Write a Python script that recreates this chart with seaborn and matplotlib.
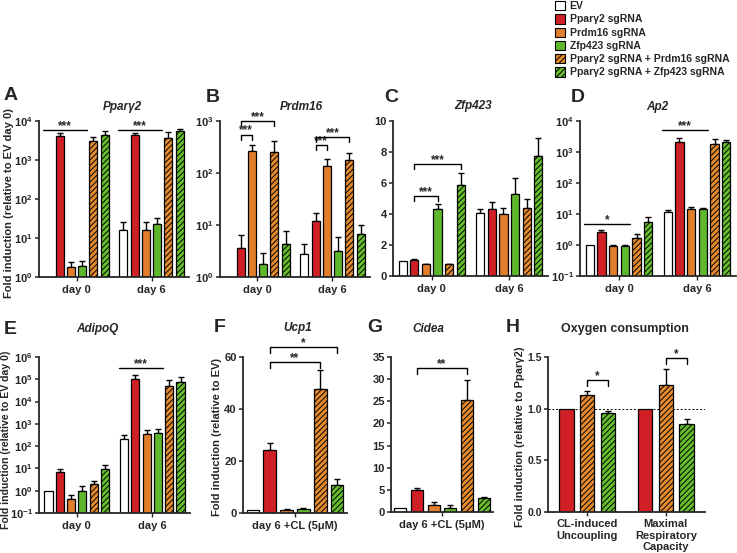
import matplotlib
matplotlib.use("Agg")
import numpy as np
import pandas as pd
import matplotlib.pyplot as plt
import matplotlib.ticker as mticker
from matplotlib.patches import Patch
import seaborn as sns

# ---------------- data ----------------
conditions = ["EV", "Pparγ2 sgRNA", "Prdm16 sgRNA", "Zfp423 sgRNA",
              "Pparγ2 sgRNA + Prdm16 sgRNA", "Pparγ2 sgRNA + Zfp423 sgRNA"]
days = ["day 0", "day 6"]
cl_label = ["day 6 +CL (5μM)"]
ox_categories = ["CL-induced\nUncoupling", "Maximal\nRespiratory\nCapacity"]
ox_conditions = ["Pparγ2 sgRNA", "Pparγ2 sgRNA + Prdm16 sgRNA", "Pparγ2 sgRNA + Zfp423 sgRNA"]

pparg2_day0 = [1.0, 4200, 1.85, 1.9, 3000, 4500]
pparg2_day6 = [16.5, 4300, 15.7, 22.4, 3650, 5700]
pparg2_err0 = [0, 800, 0.6, 0.7, 900, 1000]
pparg2_err6 = [9, 700, 10, 10, 1550, 400]

prdm16_day0 = [1.0, 3.6, 270, 1.75, 256, 4.3]
prdm16_day6 = [2.8, 11.7, 136, 3.2, 174, 6.7]
prdm16_err0 = [0, 2.9, 75, 1.15, 154, 3.3]
prdm16_err6 = [1.6, 5.3, 46, 2.6, 73, 3.1]

zfp423_day0 = [1.0, 1.05, 0.75, 4.3, 0.75, 5.85]
zfp423_day6 = [4.05, 4.3, 4.0, 5.3, 4.4, 7.75]
zfp423_err0 = [0, 0.05, 0.04, 0.35, 0.05, 0.8]
zfp423_err6 = [0.3, 0.45, 0.4, 1.05, 0.55, 1.15]

ap2_day0 = [1.0, 2.6, 0.93, 0.9, 1.7, 5.7]
ap2_day6 = [12, 2100, 15, 14, 1870, 2150]
ap2_err0 = [0, 0.5, 0.05, 0.07, 0.6, 2.6]
ap2_err6 = [1.5, 800, 1.5, 1.5, 830, 350]

adipoq_day0 = [1.0, 6.6, 0.42, 1.0, 2.1, 9.0]
adipoq_day6 = [205, 1.0e5, 345, 380, 5.0e4, 7.4e4]
adipoq_err0 = [0, 3.0, 0.24, 0.56, 0.5, 5.0]
adipoq_err6 = [117, 5.6e4, 195, 220, 4.3e4, 4.9e4]

ucp1_vals = [1.0, 24.3, 1.3, 1.5, 47.8, 10.7]
ucp1_err = [0, 2.7, 0.3, 0.3, 7.2, 2.5]

cidea_vals = [1.0, 5.0, 1.6, 1.0, 25.3, 3.1]
cidea_err = [0, 0.5, 0.6, 0.5, 4.6, 0.3]

ox_uncoupling = [1.0, 1.13, 0.955]
ox_uncoupling_err = [0, 0.04, 0.02]
ox_maximal = [1.0, 1.23, 0.85]
ox_maximal_err = [0, 0.15, 0.05]

colors = ["#FFFFFF", "#D11F26", "#E27D2C", "#5FB82C", "#E58B2E", "#67BE2C"]
hatched = ["Pparγ2 sgRNA + Prdm16 sgRNA", "Pparγ2 sgRNA + Zfp423 sgRNA"]
palette = dict(zip(conditions, colors))

# ---------------- style ----------------
sns.set_style("ticks")
plt.rcParams["font.family"] = ["Liberation Sans", "DejaVu Sans"]
plt.rcParams["font.weight"] = "bold"
plt.rcParams["axes.labelweight"] = "bold"
plt.rcParams["mathtext.fontset"] = "custom"
plt.rcParams["mathtext.rm"] = "Liberation Sans:bold"
plt.rcParams["mathtext.it"] = "Liberation Sans:bold"
plt.rcParams["mathtext.bf"] = "Liberation Sans:bold"
plt.rcParams["mathtext.default"] = "rm"
plt.rcParams["hatch.linewidth"] = 0.7
plt.rcParams["hatch.color"] = "black"

W, H = 737, 553
fig = plt.figure(figsize=(W / 100, H / 100), dpi=100)


def fx(px):
    return px / W


def fy(py):
    return 1 - py / H


def add_axes(l, t, r, b):
    return fig.add_axes([fx(l), fy(b), (r - l) / W, (b - t) / H])


def make_df(cats, conds, rows):
    recs = []
    for c, vals in zip(cats, rows):
        for h, v in zip(conds, vals):
            recs.append({"cat": c, "cond": h, "val": v})
    return pd.DataFrame(recs)


def bar_panel(rect, cats, conds, rows, errs, log, ylim, width, gap, xlim):
    ax = add_axes(*rect)
    df = make_df(cats, conds, rows)
    sns.barplot(data=df, x="cat", y="val", hue="cond", order=cats, hue_order=conds,
                palette=palette, saturation=1, width=width, gap=gap, errorbar=None,
                edgecolor="black", linewidth=0.9, legend=False, ax=ax, zorder=2)
    for hi, h in enumerate(conds):
        cont = ax.containers[hi]
        for ci, bar in enumerate(cont):
            if h in hatched:
                bar.set_hatch("//////")
            x = bar.get_x() + bar.get_width() / 2
            e = errs[ci][hi]
            if e > 0:
                ax.errorbar(x, rows[ci][hi], yerr=[[0], [e]], fmt="none", ecolor="black",
                            elinewidth=1.0, capsize=2.2, capthick=1.0, zorder=1)
    if log:
        ax.set_yscale("log")
        ax.yaxis.set_major_locator(mticker.LogLocator(base=10, numticks=12))
        ax.yaxis.set_minor_locator(mticker.NullLocator())
    ax.set_ylim(*ylim)
    ax.set_xlim(*xlim)
    ax.set_xlabel("")
    ax.set_ylabel("")
    sns.despine(ax=ax)
    for s in ("left", "bottom"):
        ax.spines[s].set_linewidth(1.3)
    ax.tick_params(axis="y", direction="out", length=3, width=1.1, labelsize=8, pad=1.5)
    ax.tick_params(axis="x", direction="out", length=3, width=1.0, labelsize=8, pad=3)
    return ax


def bar_center(ax, h, c):
    b = ax.containers[h][c]
    return b.get_x() + b.get_width() / 2, b.get_width()


def star(ax, x, y, label):
    ax.annotate(label, xy=(x, y), xytext=(0, -1.5), textcoords="offset points",
                ha="center", va="bottom", fontsize=8.5, fontweight="bold",
                annotation_clip=False)


def sig_line(ax, c, h1, h2, y, label):
    x1, w1 = bar_center(ax, h1, c)
    x2, w2 = bar_center(ax, h2, c)
    xa, xb = x1 - w1 * 0.65, x2 + w2 * 0.65
    ax.plot([xa, xb], [y, y], color="black", lw=1.0, clip_on=False, zorder=3)
    star(ax, (xa + xb) / 2, y, label)


def sig_bracket(ax, c, h1, h2, y, label, drop_px=5):
    x1, _ = bar_center(ax, h1, c)
    x2, _ = bar_center(ax, h2, c)
    disp = ax.transData.transform((x1, y))
    ylow = ax.transData.inverted().transform((disp[0], disp[1] - drop_px))[1]
    ax.plot([x1, x1, x2, x2], [ylow, y, y, ylow], color="black", lw=1.0,
            clip_on=False, zorder=3)
    star(ax, (x1 + x2) / 2, y, label)


def set_ylab(ax, rect, text, px_x, px_y, size=8.0):
    # px_x: right edge (text bottom) of the rotated label, in figure pixels
    l, t, r, b = rect
    ax.set_ylabel(text, fontsize=size, fontweight="bold")
    ax.yaxis.set_label_coords((px_x - l) / (r - l), (b - px_y) / (b - t))


day_xlim = (-0.5, 1.5)

# A
rA = (39, 121, 189, 277)
axA = bar_panel(rA, days, conditions, [pparg2_day0, pparg2_day6], [pparg2_err0, pparg2_err6],
                True, (1, 1e4), 0.9, 0.28, day_xlim)
sig_line(axA, 0, 0, 3, 5900, "***")
sig_line(axA, 1, 0, 3, 5900, "***")
set_ylab(axA, rA, "Fold induction (relative to EV day 0)", 14, 203)

# B
rB = (220, 121, 370, 277)
axB = bar_panel(rB, days, conditions, [prdm16_day0, prdm16_day6], [prdm16_err0, prdm16_err6],
                True, (1, 1e3), 0.9, 0.28, day_xlim)
sig_bracket(axB, 0, 1, 2, 550, "***")
sig_bracket(axB, 0, 1, 4, 1000, "***")
sig_bracket(axB, 1, 1, 2, 340, "***")
sig_bracket(axB, 1, 1, 4, 490, "***")

# C
rC = (393, 121, 548, 276)
axC = bar_panel(rC, days, conditions, [zfp423_day0, zfp423_day6], [zfp423_err0, zfp423_err6],
                False, (0, 10), 0.9, 0.28, day_xlim)
axC.set_yticks([0, 2, 4, 6, 8, 10])
sig_bracket(axC, 0, 1, 3, 5.15, "***")
sig_bracket(axC, 0, 1, 5, 7.2, "***")

# D
rD = (580, 121, 736, 276)
axD = bar_panel(rD, days, conditions, [ap2_day0, ap2_day6], [ap2_err0, ap2_err6],
                True, (0.1, 1e4), 0.9, 0.28, day_xlim)
sig_line(axD, 0, 0, 3, 4.8, "*")
sig_line(axD, 1, 0, 3, 5000, "***")

# E
rE = (39, 357, 190, 513)
axE = bar_panel(rE, days, conditions, [adipoq_day0, adipoq_day6], [adipoq_err0, adipoq_err6],
                True, (0.1, 1e6), 0.9, 0.28, day_xlim)
sig_line(axE, 1, 0, 3, 3.1e5, "***")
set_ylab(axE, rE, "Fold induction (relative to EV day 0)", 11.5, 440, size=7.6)

# F
rF = (243, 357, 347, 513)
axF = bar_panel(rF, cl_label, conditions, [ucp1_vals], [ucp1_err],
                False, (0, 60), 0.98, 0.29, (-0.5, 0.5))
axF.set_yticks([0, 20, 40, 60])
sig_bracket(axF, 0, 1, 4, 58, "**", 6)
sig_bracket(axF, 0, 1, 5, 64, "*", 6)
set_ylab(axF, rF, "Fold induction (relative to EV)", 222, 437)

# G
rG = (391, 357, 493, 512)
axG = bar_panel(rG, cl_label, conditions, [cidea_vals], [cidea_err],
                False, (0, 35), 0.98, 0.29, (-0.5, 0.5))
axG.set_yticks([0, 5, 10, 15, 20, 25, 30, 35])
sig_bracket(axG, 0, 1, 4, 32.5, "**", 6)

# H
rH = (548, 357, 705, 512)
axH = bar_panel(rH, ox_categories, ox_conditions, [ox_uncoupling, ox_maximal],
                [ox_uncoupling_err, ox_maximal_err],
                False, (0, 1.5), 0.8, 0.31, day_xlim)
axH.set_yticks([0, 0.5, 1.0, 1.5])
axH.yaxis.set_major_formatter(mticker.FormatStrFormatter("%.1f"))
axH.axhline(1.0, color="black", lw=0.7, ls=(0, (2, 2)), zorder=0)
sig_bracket(axH, 0, 1, 2, 1.28, "*", 6)
sig_bracket(axH, 1, 1, 2, 1.49, "*", 6)
axH.tick_params(axis="x", pad=2)
axH.tick_params(axis="y", labelsize=7.5)
set_ylab(axH, rH, "Fold induction (relative to Pparγ2)", 525, 437)

# panel letters
for letter, (px, py) in zip("ABCDEFGH", [(4, 96), (206, 97), (384, 97), (571, 97),
                                          (4, 329), (214, 328), (367, 328), (506, 328)]):
    fig.text(fx(px), fy(py), letter, fontsize=14, fontweight="bold", ha="left", va="center")

# titles
for t, (px, py) in zip(["Pparγ2", "Prdm16", "Zfp423", "Ap2", "AdipoQ", "Ucp1", "Cidea"],
                       [(122, 107), (301, 107), (473, 106), (657, 107),
                        (97, 329), (298, 328), (428, 329)]):
    fig.text(fx(px), fy(py), t, fontsize=8.5, fontweight="bold", fontstyle="italic",
             ha="center", va="center")
fig.text(fx(625), fy(329), "Oxygen consumption", fontsize=9, fontweight="bold",
         ha="center", va="center")

# legend
handles = [Patch(facecolor=c, edgecolor="black", linewidth=0.8,
                 hatch=("//////" if n in hatched else None))
           for n, c in zip(conditions, colors)]
fig.legend(handles, conditions, loc="upper left", bbox_to_anchor=(fx(555), fy(1)),
           frameon=False, prop={"weight": "bold", "size": 7.5}, handlelength=1.0,
           handleheight=1.0, handletextpad=0.4, labelspacing=0.29, borderaxespad=0,
           borderpad=0.0)

fig.savefig("out.png", dpi=100)
